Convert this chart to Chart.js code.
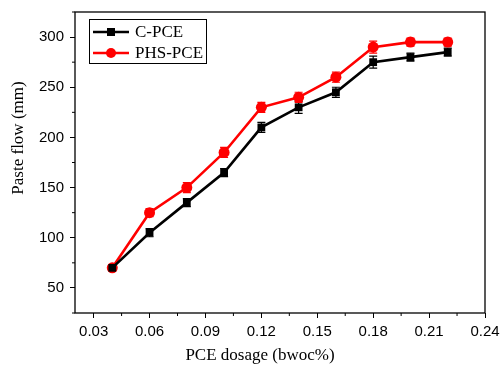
<!DOCTYPE html>
<html>
<head>
<meta charset="utf-8">
<script src="https://cdn.jsdelivr.net/npm/chart.js@4.4.0/dist/chart.umd.min.js"></script>
<style>
  html, body { margin: 0; padding: 0; background: #fff; }
  #wrap { width: 500px; height: 367px; }
</style>
</head>
<body>
<div id="wrap"><canvas id="flowChart" width="500" height="367"></canvas></div>
<script>
const DOSAGE = [0.04, 0.06, 0.08, 0.10, 0.12, 0.14, 0.16, 0.18, 0.20, 0.22];
const C_PCE = [70, 105, 135, 165, 210, 230, 245, 275, 280, 285];
const C_PCE_ERR = [2, 4, 4, 4, 5, 6, 5, 6, 4, 4];
const PHS_PCE = [70, 125, 150, 185, 230, 240, 260, 290, 295, 295];
const PHS_PCE_ERR = [2, 4, 5, 5, 5, 5, 5, 6, 4, 4];
const X_TICKS = [0.03, 0.06, 0.09, 0.12, 0.15, 0.18, 0.21, 0.24];
const Y_TICKS = [50, 100, 150, 200, 250, 300];
const X_TITLE = 'PCE dosage (bwoc%)';
const Y_TITLE = 'Paste flow (mm)';

const SERIF = '"Liberation Serif", "Times New Roman", serif';
const SANS = '"Liberation Sans", Arial, sans-serif';

function pts(xs, ys) {
    return xs.map((x, i) => ({ x: x, y: ys[i] }));
}

// frame, minor ticks, error bars, axis titles and the boxed legend
const extras = {
    id: 'extras',
    beforeDatasetsDraw(chart) {
        const ctx = chart.ctx;
        chart.data.datasets.forEach((ds, di) => {
            const meta = chart.getDatasetMeta(di);
            ctx.save();
            ctx.strokeStyle = ds.borderColor;
            ctx.lineWidth = 1.2;
            meta.data.forEach((el, i) => {
                const y1 = chart.scales.y.getPixelForValue(ds.data[i].y + ds.errors[i]);
                const y2 = chart.scales.y.getPixelForValue(ds.data[i].y - ds.errors[i]);
                ctx.beginPath();
                ctx.moveTo(el.x, y1); ctx.lineTo(el.x, y2);
                ctx.moveTo(el.x - 4, y1); ctx.lineTo(el.x + 4, y1);
                ctx.moveTo(el.x - 4, y2); ctx.lineTo(el.x + 4, y2);
                ctx.stroke();
            });
            ctx.restore();
        });
    },
    afterDraw(chart) {
        const ctx = chart.ctx;
        const a = chart.chartArea;
        const xs = chart.scales.x, ys = chart.scales.y;
        ctx.save();
        ctx.strokeStyle = '#000';
        ctx.lineWidth = 1.3;
        ctx.strokeRect(a.left, a.top, a.right - a.left, a.bottom - a.top);

        ctx.lineWidth = 1;
        ctx.beginPath();
        for (let i = 0; i < X_TICKS.length - 1; i++) {
            const px = xs.getPixelForValue((X_TICKS[i] + X_TICKS[i + 1]) / 2);
            ctx.moveTo(px, a.bottom); ctx.lineTo(px, a.bottom + 3);
        }
        for (let v = 25; v <= 325; v += 50) {
            const py = ys.getPixelForValue(v);
            ctx.moveTo(a.left, py); ctx.lineTo(a.left - 3, py);
        }
        ctx.stroke();

        // axis titles
        ctx.fillStyle = '#000';
        ctx.font = '17px ' + SERIF;
        ctx.textAlign = 'center';
        ctx.textBaseline = 'middle';
        ctx.fillText(X_TITLE, 260, 356);
        ctx.save();
        ctx.translate(19, 138);
        ctx.rotate(-Math.PI / 2);
        ctx.fillText(Y_TITLE, 0, 0);
        ctx.restore();

        // legend box
        const bx = 89, by = 19, bw = 117, bh = 44;
        ctx.lineWidth = 1;
        ctx.strokeRect(bx + 0.5, by + 0.5, bw, bh);
        ctx.font = '17px ' + SERIF;
        ctx.textBaseline = 'middle';
        ctx.textAlign = 'left';
        chart.data.datasets.forEach((ds, di) => {
            const cy = by + 13 + di * 21;
            ctx.strokeStyle = ds.borderColor;
            ctx.lineWidth = 2.5;
            ctx.beginPath();
            ctx.moveTo(bx + 4, cy); ctx.lineTo(bx + 40, cy);
            ctx.stroke();
            ctx.fillStyle = ds.borderColor;
            if (ds.pointStyle === 'rect') {
                ctx.fillRect(bx + 22 - 4, cy - 4, 8, 8);
            } else {
                ctx.beginPath();
                ctx.arc(bx + 22, cy, 5, 0, Math.PI * 2);
                ctx.fill();
            }
            ctx.fillStyle = '#000';
            ctx.fillText(ds.label, bx + 46, cy + 1);
        });
        ctx.restore();
    }
};

new Chart(document.getElementById('flowChart'), {
    type: 'scatter',
    data: {
        datasets: [
            {
                label: 'C-PCE',
                data: pts(DOSAGE, C_PCE),
                errors: C_PCE_ERR,
                showLine: true,
                borderColor: '#000',
                backgroundColor: '#000',
                borderWidth: 2.6,
                pointStyle: 'rect',
                pointRadius: 5.5,
                pointBorderWidth: 0
            },
            {
                label: 'PHS-PCE',
                data: pts(DOSAGE, PHS_PCE),
                errors: PHS_PCE_ERR,
                showLine: true,
                borderColor: '#ff0000',
                backgroundColor: '#ff0000',
                borderWidth: 2.6,
                pointStyle: 'circle',
                pointRadius: 5.5,
                pointBorderWidth: 0
            }
        ]
    },
    options: {
        responsive: false,
        animation: false,
        layout: { padding: { top: 12, right: 15, bottom: 0, left: 0 } },
        plugins: {
            legend: { display: false },
            tooltip: { enabled: false }
        },
        scales: {
            x: {
                type: 'linear',
                min: 0.02,
                max: 0.24,
                afterBuildTicks: s => { s.ticks = X_TICKS.map(v => ({ value: v })); },
                afterFit: s => { s.height = 54; s.paddingLeft = 0; s.paddingRight = 0; },
                grid: { drawOnChartArea: false, tickLength: 5, color: '#000', tickWidth: 1 },
                border: { display: false },
                ticks: {
                    color: '#000',
                    padding: 5,
                    font: { family: SANS, size: 15 },
                    maxRotation: 0,
                    callback: v => v.toFixed(2)
                }
            },
            y: {
                min: 25,
                max: 325,
                afterBuildTicks: s => { s.ticks = Y_TICKS.map(v => ({ value: v })); },
                afterFit: s => { s.width = 75; s.paddingTop = 0; s.paddingBottom = 0; },
                grid: { drawOnChartArea: false, tickLength: 5, color: '#000', tickWidth: 1 },
                border: { display: false },
                ticks: {
                    color: '#000',
                    padding: 6,
                    font: { family: SANS, size: 15 }
                }
            }
        }
    },
    plugins: [extras]
});
</script>
</body>
</html>
